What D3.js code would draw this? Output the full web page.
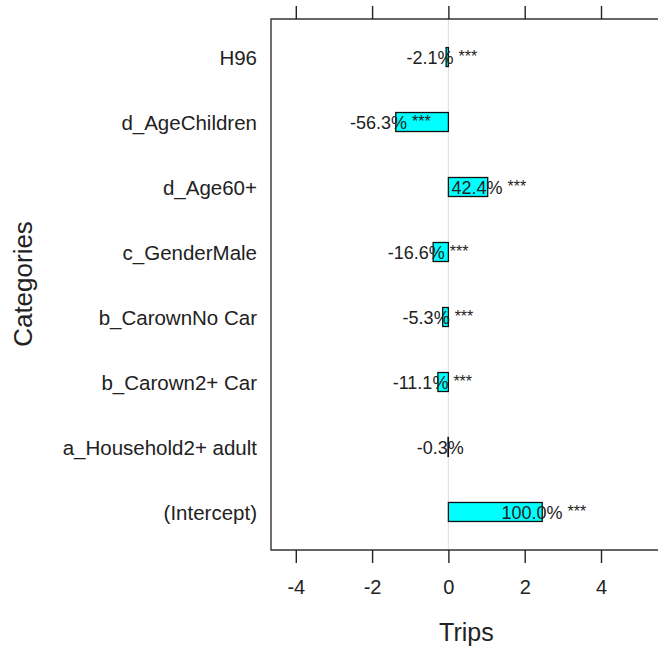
<!DOCTYPE html>
<html lang="en">
<head>
    <meta charset="UTF-8">
    <script src="https://cdn.jsdelivr.net/npm/d3@7"></script>
    <title>Trips</title>
    <style>
        body { margin: 0; background: white; }
        text { font-family: "Liberation Sans", Arial, sans-serif; fill: #222; }
    </style>
</head>
<body>
<script>
    /*------------------- data --------------------*/
    // categories, top to bottom
    const categories = ["H96", "d_AgeChildren", "d_Age60+", "c_GenderMale",
        "b_CarownNo Car", "b_Carown2+ Car", "a_Household2+ adult", "(Intercept)"];
    // bar values (Trips)
    const values = [-0.06, -1.38, 1.03, -0.40, -0.15, -0.275, -0.01, 2.46];
    // percentage labels
    const pctLabels = ["-2.1%", "-56.3%", "42.4%", "-16.6%", "-5.3%", "-11.1%", "-0.3%", "100.0%"];
    // significance stars
    const stars = ["***", "***", "***", "***", "***", "***", "", "***"];
    // where each label starts (Trips units)
    const labelAt = [-1.10, -2.58, 0.08, -1.59, -1.20, -1.46, -0.83, 1.39];
    const xTicks = [-4, -2, 0, 2, 4];

    /*------------------- layout --------------------*/
    const W = 658, H = 651;
    const plot = { left: 271, top: 19, bottom: 550 };

    const svg = d3.select("body").append("svg")
        .attr("width", W)
        .attr("height", H);

    const x = d3.scaleLinear()
        .domain([-4.65, 6])
        .range([plot.left, plot.left + 10.65 * 38.15]);

    const y = d3.scalePoint()
        .domain(categories)
        .range([plot.top, plot.bottom])
        .padding(0.585);

    // zero reference line
    svg.append("line")
        .attr("x1", x(0)).attr("x2", x(0))
        .attr("y1", plot.top).attr("y2", plot.bottom)
        .attr("stroke", "#e3e3e3")
        .attr("stroke-width", 1.2);

    // bars
    const barH = 19;
    svg.selectAll("rect.bar")
        .data(values)
        .enter()
        .append("rect")
        .attr("class", "bar")
        .attr("x", d => x(Math.min(0, d)))
        .attr("y", (d, i) => y(categories[i]) - barH / 2)
        .attr("width", d => Math.abs(x(d) - x(0)))
        .attr("height", barH)
        .attr("fill", "#00ffff")
        .attr("stroke", "#111")
        .attr("stroke-width", 1.3);

    // labels
    const lbl = svg.selectAll("text.lbl")
        .data(pctLabels)
        .enter()
        .append("text")
        .attr("class", "lbl")
        .attr("x", (d, i) => x(labelAt[i]))
        .attr("y", (d, i) => y(categories[i]) + 7)
        .attr("font-size", 18);
    lbl.append("tspan").text(d => d);
    lbl.append("tspan")
        .attr("dx", 5)
        .attr("dy", -2)
        .attr("font-size", 16)
        .text((d, i) => stars[i]);

    // plot frame (right side runs off the page)
    svg.append("path")
        .attr("d", `M${W + 5},${plot.top}H${plot.left}V${plot.bottom}H${W + 5}`)
        .attr("fill", "none")
        .attr("stroke", "#333")
        .attr("stroke-width", 1.4);

    // bottom axis
    const bottomAxis = d3.axisBottom(x).tickValues(xTicks).tickSize(13).tickPadding(17)
        .tickFormat(d3.format("d"));
    const gb = svg.append("g")
        .attr("transform", `translate(0,${plot.bottom})`)
        .call(bottomAxis);
    gb.select(".domain").remove();
    gb.selectAll(".tick line").attr("stroke", "#222").attr("stroke-width", 1.4);
    gb.selectAll(".tick text")
        .attr("font-size", 20)
        .attr("font-family", "Liberation Sans, Arial, sans-serif")
        .attr("fill", "#222")
        .text(d => d < 0 ? "-" + Math.abs(d) : d);

    // top axis (ticks only)
    const gt = svg.append("g")
        .attr("transform", `translate(0,${plot.top})`)
        .call(d3.axisTop(x).tickValues(xTicks).tickSize(13).tickFormat(""));
    gt.select(".domain").remove();
    gt.selectAll(".tick line").attr("stroke", "#222").attr("stroke-width", 1.4);

    // category labels
    svg.selectAll("text.cat")
        .data(categories)
        .enter()
        .append("text")
        .attr("class", "cat")
        .attr("x", 257)
        .attr("y", d => y(d) + 8)
        .attr("text-anchor", "end")
        .attr("font-size", 20.5)
        .text(d => d);

    // axis titles
    svg.append("text")
        .attr("x", x(0) + 18)
        .attr("y", 641)
        .attr("text-anchor", "middle")
        .attr("font-size", 25)
        .text("Trips");

    svg.append("text")
        .attr("transform", "translate(32,284) rotate(-90)")
        .attr("text-anchor", "middle")
        .attr("font-size", 26)
        .text("Categories");
</script>
</body>
</html>
